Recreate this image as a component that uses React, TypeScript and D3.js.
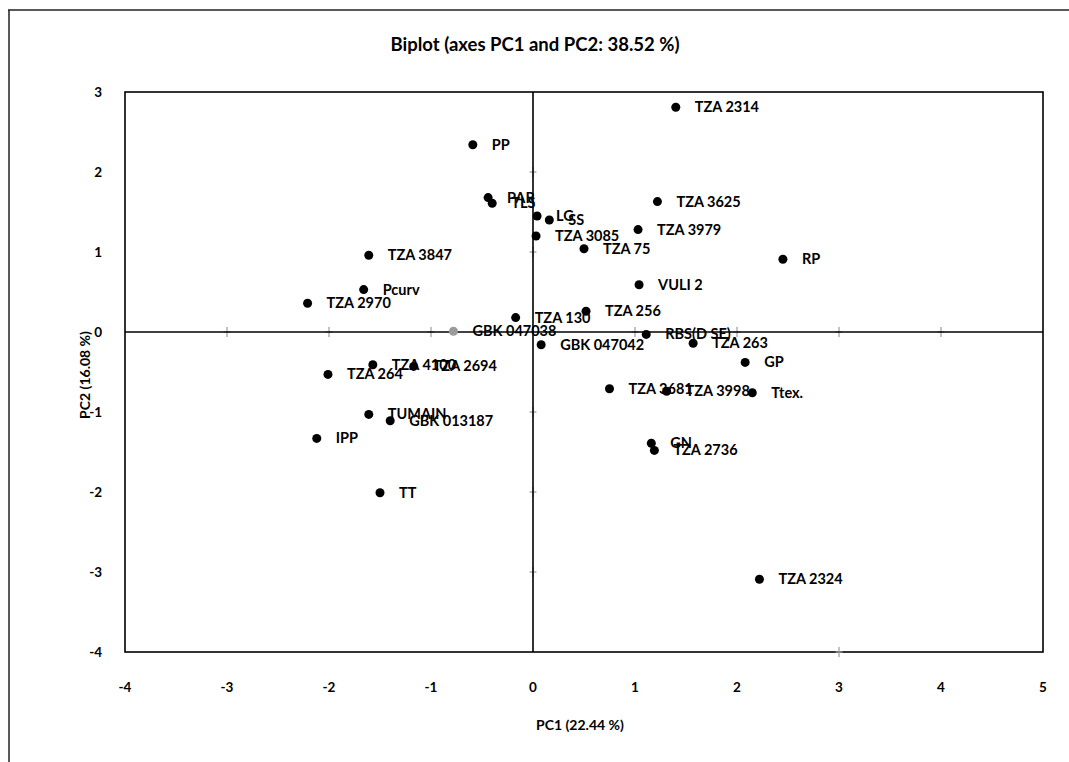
import React from "react"
import * as d3 from "d3"

// observations / variables on the first two principal components
const names = [
  "TZA 2314", "PP", "PAR", "TLS", "LG", "SS", "TZA 3085", "TZA 75", "TZA 3625",
  "TZA 3979", "RP", "VULI 2", "TZA 3847", "Pcurv", "TZA 2970", "TZA 130", "TZA 256",
  "GBK 047038", "RBS(D SE)", "GBK 047042", "TZA 263", "GP", "TZA 4100", "TZA 2694",
  "TZA 264", "TZA 3681", "TZA 3998", "Ttex.", "TUMAIN", "GBK 013187", "IPP", "GN",
  "TZA 2736", "TT", "TZA 2324",
]
const pc1 = [
  1.4, -0.59, -0.44, -0.4, 0.04, 0.16, 0.03, 0.5, 1.22,
  1.03, 2.45, 1.04, -1.61, -1.66, -2.21, -0.17, 0.52,
  -0.78, 1.11, 0.08, 1.57, 2.08, -1.57, -1.17,
  -2.01, 0.75, 1.31, 2.15, -1.61, -1.4, -2.12, 1.16,
  1.19, -1.5, 2.22,
]
const pc2 = [
  2.81, 2.34, 1.68, 1.61, 1.45, 1.4, 1.2, 1.04, 1.63,
  1.28, 0.91, 0.59, 0.96, 0.53, 0.36, 0.18, 0.26,
  0.01, -0.03, -0.16, -0.14, -0.38, -0.41, -0.43,
  -0.53, -0.71, -0.74, -0.76, -1.03, -1.11, -1.33, -1.39,
  -1.48, -2.01, -3.09,
]
const xTicks = [-4, -3, -2, -1, 0, 1, 2, 3, 4, 5]
const yTicks = [-4, -3, -2, -1, 0, 1, 2, 3]

const font = "Lato, 'Open Sans', sans-serif"

const App = () => {
  const width = 1069
  const height = 762
  const x = d3.scaleLinear().domain([-4, 5]).range([125, 1043])
  const y = d3.scaleLinear().domain([-4, 3]).range([652, 92])

  const cross = (cx: number, cy: number, key: string) => (
    <g key={key} stroke="#9a9a9a" strokeWidth={1.2}>
      <line x1={cx} x2={cx} y1={cy - 5} y2={cy + 5} />
      <line x1={cx - 3.5} x2={cx + 3.5} y1={cy} y2={cy} />
    </g>
  )

  return (
    <svg
      width={width}
      height={height}
      style={{ position: "absolute", left: 0, top: 0, background: "#fff" }}
      fontFamily={font}
      fontWeight="bold"
    >
      {/* outer chart border */}
      <line x1={8} x2={width} y1={10} y2={10} stroke="#222" strokeWidth={1.5} />
      <line x1={9} x2={9} y1={10} y2={height} stroke="#222" strokeWidth={1.5} />

      <text x={535} y={51} textAnchor="middle" fontSize={18.5} fill="#000">
        Biplot (axes PC1 and PC2: 38.52 %)
      </text>

      {/* plot frame */}
      <rect
        x={x(-4)}
        y={y(3)}
        width={x(5) - x(-4)}
        height={y(-4) - y(3)}
        fill="none"
        stroke="#000"
        strokeWidth={1.6}
      />

      {/* tick crosses along the zero axes */}
      {xTicks
        .filter((t) => t > -4 && t < 5 && t !== 0)
        .map((t) => cross(x(t), y(0), "xc" + t))}
      {yTicks
        .filter((t) => t > -4 && t < 3 && t !== 0)
        .map((t) => cross(x(0), y(t), "yc" + t))}
      {cross(x(3), y(-4), "bc3")}

      <line x1={x(-4)} x2={x(5)} y1={y(0)} y2={y(0)} stroke="#000" strokeWidth={1.6} />
      <line x1={x(0)} x2={x(0)} y1={y(3)} y2={y(-4)} stroke="#000" strokeWidth={1.6} />

      {/* tick labels */}
      {xTicks.map((t) => (
        <text key={"xt" + t} x={x(t)} y={692} textAnchor="middle" fontSize={13.5} fill="#000">
          {t}
        </text>
      ))}
      {yTicks.map((t) => (
        <text key={"yt" + t} x={102} y={y(t) + 5} textAnchor="end" fontSize={13.5} fill="#000">
          {t}
        </text>
      ))}

      <text x={580} y={730} textAnchor="middle" fontSize={14} fill="#000">
        PC1 (22.44 %)
      </text>
      <text
        transform={`translate(90,375) rotate(-90)`}
        textAnchor="middle"
        fontSize={14}
        fill="#000"
      >
        PC2 (16.08 %)
      </text>

      {/* points and labels */}
      {names.map((n, i) => {
        const px = x(pc1[i])
        const py = y(pc2[i])
        const faint = n === "GBK 047038"
        return (
          <g key={n}>
            <circle cx={px} cy={py} r={4.5} fill={faint ? "#9a9a9a" : "#000"} />
            <text x={px + 19} y={py + 5} fontSize={14.5} fill="#000">
              {n}
            </text>
          </g>
        )
      })}
    </svg>
  )
}

export default App
